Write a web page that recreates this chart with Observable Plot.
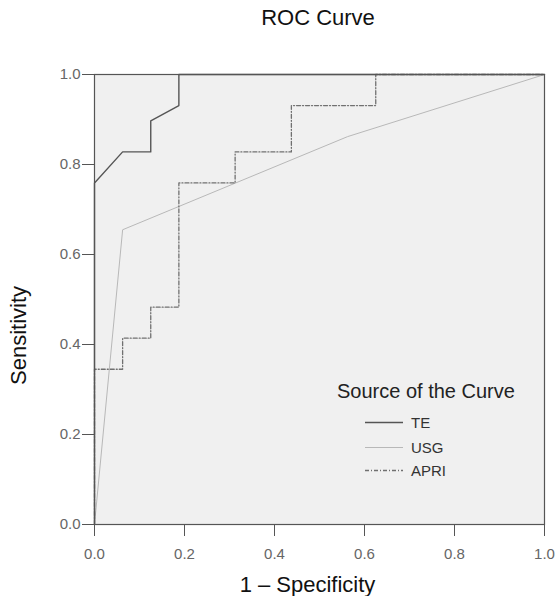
<!DOCTYPE html>
<html>
<head>
<meta charset="utf-8">
<script src="https://cdn.jsdelivr.net/npm/d3@7"></script>
<script src="https://cdn.jsdelivr.net/npm/@observablehq/plot@0.6"></script>
<style>
  body { margin: 0; background: #fff; font-family: "Liberation Sans", Arial, sans-serif; }
  #wrap { position: relative; width: 558px; height: 596px; }
  #title { height: 44px; width: 558px; box-sizing: border-box; padding-left: 78px; padding-top: 7px;
           text-align: center; font-size: 22px; line-height: 22px; color: #111; }
  #legend { position: absolute; left: 0; top: 0; pointer-events: none; }
</style>
</head>
<body>
<div id="wrap">
  <div id="title">ROC Curve</div>
  <div id="chart"></div>
  <svg id="legend" width="558" height="596"></svg>
</div>
<script>
// Series names
const seriesNames = ["TE", "USG", "APRI"];
// TE curve (1 - specificity, sensitivity)
const teX = [0, 0, 0.0625, 0.125, 0.125, 0.1875, 0.1875, 1];
const teY = [0, 0.759, 0.828, 0.828, 0.897, 0.931, 1, 1];
// USG curve
const usgX = [0, 0.0625, 0.5625, 1];
const usgY = [0, 0.655, 0.862, 1];
// APRI curve
const apriX = [0, 0, 0.0625, 0.0625, 0.125, 0.125, 0.1875, 0.1875, 0.3125, 0.3125, 0.4375, 0.4375, 0.625, 0.625, 1];
const apriY = [0, 0.345, 0.345, 0.414, 0.414, 0.483, 0.483, 0.759, 0.759, 0.828, 0.828, 0.931, 0.931, 1, 1];
// Tick values
const tickValues = [0, 0.2, 0.4, 0.6, 0.8, 1.0];

const toRows = (xs, ys, name) => xs.map((x, i) => ({series: name, x, y: ys[i]}));
const teRows = toRows(teX, teY, seriesNames[0]);
const usgRows = toRows(usgX, usgY, seriesNames[1]);
const apriRows = toRows(apriX, apriY, seriesNames[2]);

const styles = {
  TE:   {stroke: "#555", strokeWidth: 1.4, dash: null},
  USG:  {stroke: "#b8b8b8", strokeWidth: 1, dash: null},
  APRI: {stroke: "#707070", strokeWidth: 1.3, dash: "4,2,1,2"}
};

const chart = Plot.plot({
  width: 558,
  height: 552,
  marginTop: 30,
  marginBottom: 72,
  marginLeft: 94,
  marginRight: 14,
  style: {fontFamily: '"Liberation Sans", Arial, sans-serif', background: "#fff"},
  x: {domain: [0, 1]},
  y: {domain: [0, 1]},
  marks: [
    Plot.frame({fill: "#f0f0f0"}),
    Plot.line(usgRows, {x: "x", y: "y", stroke: styles.USG.stroke, strokeWidth: styles.USG.strokeWidth}),
    Plot.line(apriRows, {x: "x", y: "y", stroke: styles.APRI.stroke, strokeWidth: styles.APRI.strokeWidth, strokeDasharray: styles.APRI.dash}),
    Plot.line(teRows, {x: "x", y: "y", stroke: styles.TE.stroke, strokeWidth: styles.TE.strokeWidth}),
    Plot.frame({stroke: "#555", strokeWidth: 1.2}),
    Plot.axisX({ticks: tickValues, tickFormat: d3.format(".1f"), tickSize: 12, tickPadding: 12,
                fontSize: 15, stroke: "#555", fill: "#666", label: null}),
    Plot.axisY({ticks: tickValues, tickFormat: d3.format(".1f"), tickSize: 12, tickPadding: 2,
                fontSize: 15, stroke: "#555", fill: "#666", label: null}),
    Plot.text(["1 – Specificity"], {frameAnchor: "bottom", lineAnchor: "bottom", dx: -12, dy: 67,
                fontSize: 22, fill: "#111"}),
    Plot.text(["Sensitivity"], {frameAnchor: "left", lineAnchor: "bottom", rotate: -90, dx: -69, dy: 36,
                fontSize: 22, fill: "#111", textAnchor: "middle"})
  ]
});
document.getElementById("chart").appendChild(chart);

// Legend overlay
const lg = d3.select("#legend");
lg.append("text").attr("x", 337).attr("y", 398)
  .attr("font-size", 20).attr("fill", "#222")
  .attr("font-family", '"Liberation Sans", Arial, sans-serif')
  .text("Source of the Curve");
const legendY = [422.5, 447.5, 470.5];
seriesNames.forEach((name, i) => {
  const s = styles[name];
  lg.append("line").attr("x1", 365).attr("x2", 403).attr("y1", legendY[i]).attr("y2", legendY[i])
    .attr("stroke", s.stroke).attr("stroke-width", s.strokeWidth)
    .attr("stroke-dasharray", s.dash);
  lg.append("text").attr("x", 411).attr("y", legendY[i]).attr("dy", "0.36em")
    .attr("font-size", 15).attr("fill", "#333")
    .attr("font-family", '"Liberation Sans", Arial, sans-serif')
    .text(name);
});
</script>
</body>
</html>
